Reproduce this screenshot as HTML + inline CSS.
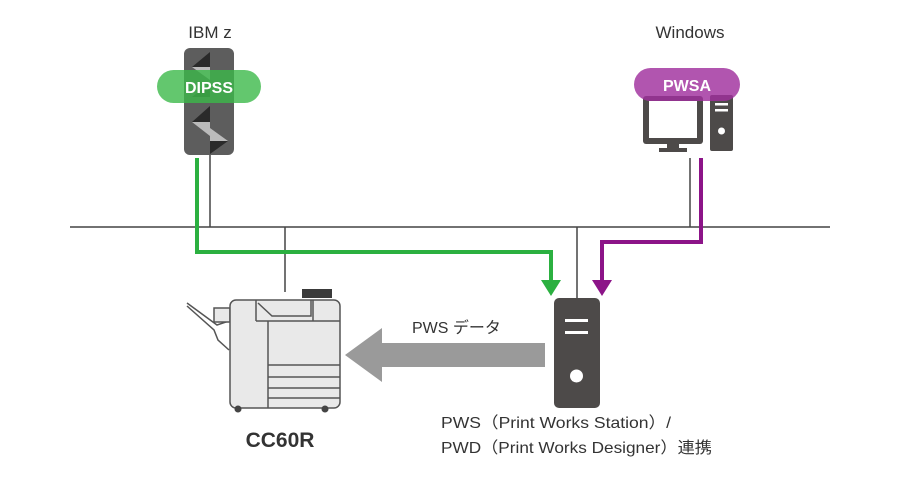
<!DOCTYPE html>
<html><head><meta charset="utf-8"><style>
body{margin:0;background:#fff}
svg{display:block}
text{font-family:"Liberation Sans","Noto Sans CJK JP",sans-serif}
</style></head><body>
<svg width="900" height="480" viewBox="0 0 900 480" xmlns="http://www.w3.org/2000/svg">
<rect width="900" height="480" fill="#fff"/>
<line x1="70" y1="227" x2="830" y2="227" stroke="#444" stroke-width="1.5"/>
<line x1="210" y1="155" x2="210" y2="227" stroke="#444" stroke-width="1.5"/>
<line x1="285" y1="227" x2="285" y2="292" stroke="#444" stroke-width="1.5"/>
<line x1="577" y1="227" x2="577" y2="298" stroke="#444" stroke-width="1.5"/>
<line x1="690" y1="158" x2="690" y2="227" stroke="#444" stroke-width="1.5"/>
<text x="210" y="38" font-size="17" fill="#333" text-anchor="middle">IBM z</text>
<text x="690" y="38" font-size="17" fill="#333" text-anchor="middle">Windows</text>
<!-- IBM z -->
<rect x="184" y="48" width="50" height="107" rx="6" fill="#5d5d5d"/>
<polygon points="210,52 210,67 192,67" fill="#2a2a2a"/>
<polygon points="192,67 210,67 210,80" fill="#bbb"/>
<polygon points="210,83 210,97 192,97" fill="#2a2a2a"/>
<polygon points="210,106 210,122 192,122" fill="#2a2a2a"/>
<polygon points="192,122 210,122 210,136" fill="#bbb"/>
<polygon points="210,128 228,141 210,141" fill="#bbb"/>
<polygon points="210,141 228,141 210,154" fill="#2a2a2a"/>
<rect x="157" y="70" width="104" height="33" rx="16.5" fill="#3cb94a" fill-opacity="0.8"/>
<text x="209" y="93" font-size="16" font-weight="bold" fill="#fff" text-anchor="middle">DIPSS</text>
<!-- Windows PC -->
<rect x="643" y="96" width="60" height="48" rx="3" fill="#4d4a49"/>
<rect x="649" y="101" width="48" height="37" fill="#fff"/>
<rect x="667" y="144" width="12" height="5" fill="#4d4a49"/>
<rect x="659" y="148" width="28" height="4" fill="#4d4a49"/>
<rect x="710" y="95" width="23" height="56" rx="2" fill="#4d4a49"/>
<rect x="715" y="103" width="13" height="2.5" fill="#fff"/>
<rect x="715" y="109" width="13" height="2.5" fill="#fff"/>
<circle cx="721.5" cy="131" r="3.5" fill="#fff"/>
<rect x="634" y="68" width="106" height="33" rx="16.5" fill="#a0309e" fill-opacity="0.82"/>
<text x="687" y="91" font-size="16" font-weight="bold" fill="#fff" text-anchor="middle">PWSA</text>
<!-- connectors -->
<polyline points="197,158 197,252 551,252 551,282" fill="none" stroke="#2bb040" stroke-width="4"/>
<polygon points="541,280 561,280 551,296" fill="#2bb040"/>
<polyline points="701,158 701,242 602,242 602,282" fill="none" stroke="#8c1488" stroke-width="4"/>
<polygon points="592,280 612,280 602,296" fill="#8c1488"/>
<!-- server -->
<rect x="554" y="298" width="46" height="110" rx="5" fill="#4d4a49"/>
<rect x="565" y="319" width="23" height="3" fill="#fff"/>
<rect x="565" y="331" width="23" height="3" fill="#fff"/>
<circle cx="576.5" cy="376" r="6.5" fill="#fff"/>
<!-- big arrow -->
<polygon points="545,343 382,343 382,328 345,355 382,382 382,367 545,367" fill="#9a9a9a"/>
<text x="412" y="333" font-size="16" fill="#333">PWS データ</text>
<!-- printer -->
<g stroke="#555" stroke-width="1.5" fill="#e9e9e9">
<rect x="302" y="289" width="30" height="9" fill="#3a3a3a" stroke="none"/>
<polyline points="187,303 217,325 226,322 230,316 228,312" fill="none"/>
<polyline points="187,306 214,330 218,340 229,350" fill="none"/>
<rect x="214" y="308" width="16" height="14"/>
<rect x="230" y="300" width="110" height="108" rx="6"/>
<line x1="268" y1="321" x2="268" y2="408"/>
<line x1="256" y1="321" x2="340" y2="321"/>
<polyline points="256,300 256,321"/>
<polyline points="258,303 272,316 311,316 311,300" fill="none"/>
<line x1="313" y1="300" x2="313" y2="321"/>
<line x1="268" y1="365" x2="340" y2="365"/>
<line x1="268" y1="377" x2="340" y2="377"/>
<line x1="268" y1="388" x2="340" y2="388"/>
<line x1="268" y1="398" x2="340" y2="398"/>
</g>
<circle cx="238" cy="409" r="3.5" fill="#444"/>
<circle cx="325" cy="409" r="3.5" fill="#444"/>
<text x="280" y="447" font-size="21" font-weight="bold" fill="#333" text-anchor="middle">CC60R</text>
<text x="441" y="428" font-size="16" fill="#333" textLength="230" lengthAdjust="spacingAndGlyphs">PWS（Print Works  Station）/</text>
<text x="441" y="453" font-size="16" fill="#333" textLength="271" lengthAdjust="spacingAndGlyphs">PWD（Print Works Designer）連携</text>
</svg>
</body></html>
